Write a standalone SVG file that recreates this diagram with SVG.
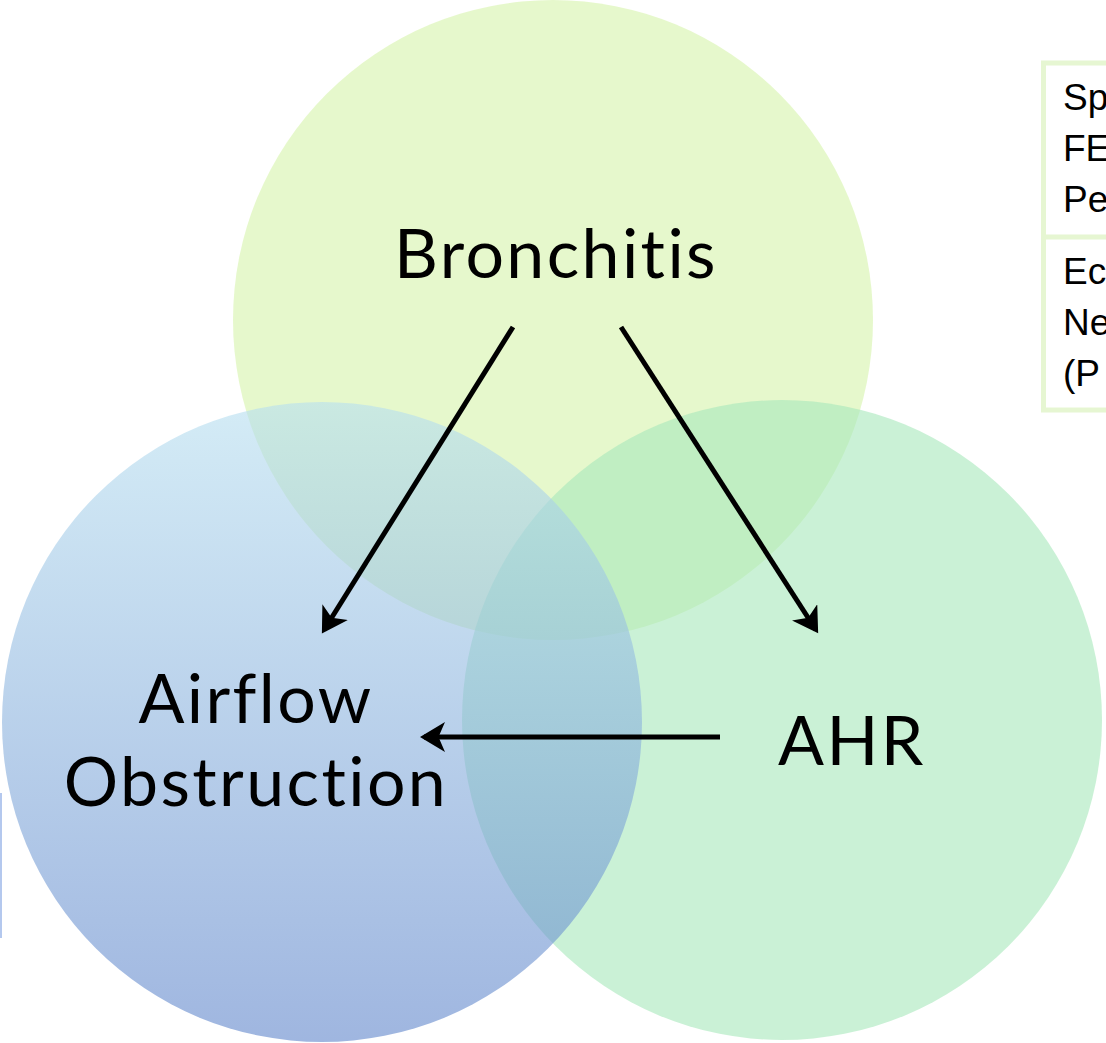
<svg xmlns="http://www.w3.org/2000/svg" width="1106" height="1043" viewBox="0 0 1106 1043">
<style>
.lbl{font-family:Lato,"Open Sans",sans-serif;fill:#000;text-anchor:middle;font-variant-ligatures:none;letter-spacing:2.4px}
.big{font-size:68px}
.box{font-family:"Liberation Sans",Arial,sans-serif;font-size:37px;fill:#000}
.arr{stroke:#000;stroke-width:5;fill:none;marker-end:url(#ah)}
</style>
<defs>
<linearGradient id="gl" x1="0" y1="0" x2="0" y2="1">
<stop offset="0" stop-color="#b7dff0"/>
<stop offset="1" stop-color="#5f85cb"/>
</linearGradient>
<marker id="ah" markerWidth="6" markerHeight="6" refX="4.2" refY="3" orient="auto" markerUnits="strokeWidth">
<path d="M0,0 L5,3 L0,6 L1.3,3 Z" fill="#000"/>
</marker>
</defs>
<rect width="1106" height="1043" fill="#fff"/>
<rect x="0" y="793" width="2" height="145" fill="#b4c8ee"/>
<g id="box">
<rect x="1043.5" y="63" width="80" height="347" fill="#fff" stroke="#e6f6d2" stroke-width="5"/>
<line x1="1043.5" y1="237" x2="1110" y2="237" stroke="#e6f6d2" stroke-width="5"/>
<text class="box" x="1063" y="110">Sp</text>
<text class="box" x="1063" y="161">FE</text>
<text class="box" x="1063" y="212">Pe</text>
<text class="box" x="1063" y="284">Ec</text>
<text class="box" x="1063" y="335">Ne</text>
<text class="box" x="1063" y="386">(P</text>
</g>
<g id="bronchitis">
<circle cx="553" cy="320" r="320" fill="#d5f3aa" fill-opacity="0.6"/>
</g>
<g id="ahr">
<circle cx="782" cy="720" r="320" fill="#a7e8bb" fill-opacity="0.6"/>
</g>
<g id="airflow">
<circle cx="322" cy="722" r="320" fill="url(#gl)" fill-opacity="0.6"/>
</g>
<g id="labels">
<text class="lbl big" x="556" y="278">Bronchitis</text>
<text class="lbl big" x="256" y="723">Airflow</text>
<text class="lbl big" x="256" y="806">Obstruction</text>
<text class="lbl big" x="852" y="765">AHR</text>
</g>
<g id="connectors">
<line class="arr" x1="513" y1="327" x2="324" y2="630"/>
<line class="arr" x1="621" y1="327" x2="816" y2="630"/>
<line class="arr" x1="720" y1="737" x2="424" y2="737"/>
</g>
</svg>
